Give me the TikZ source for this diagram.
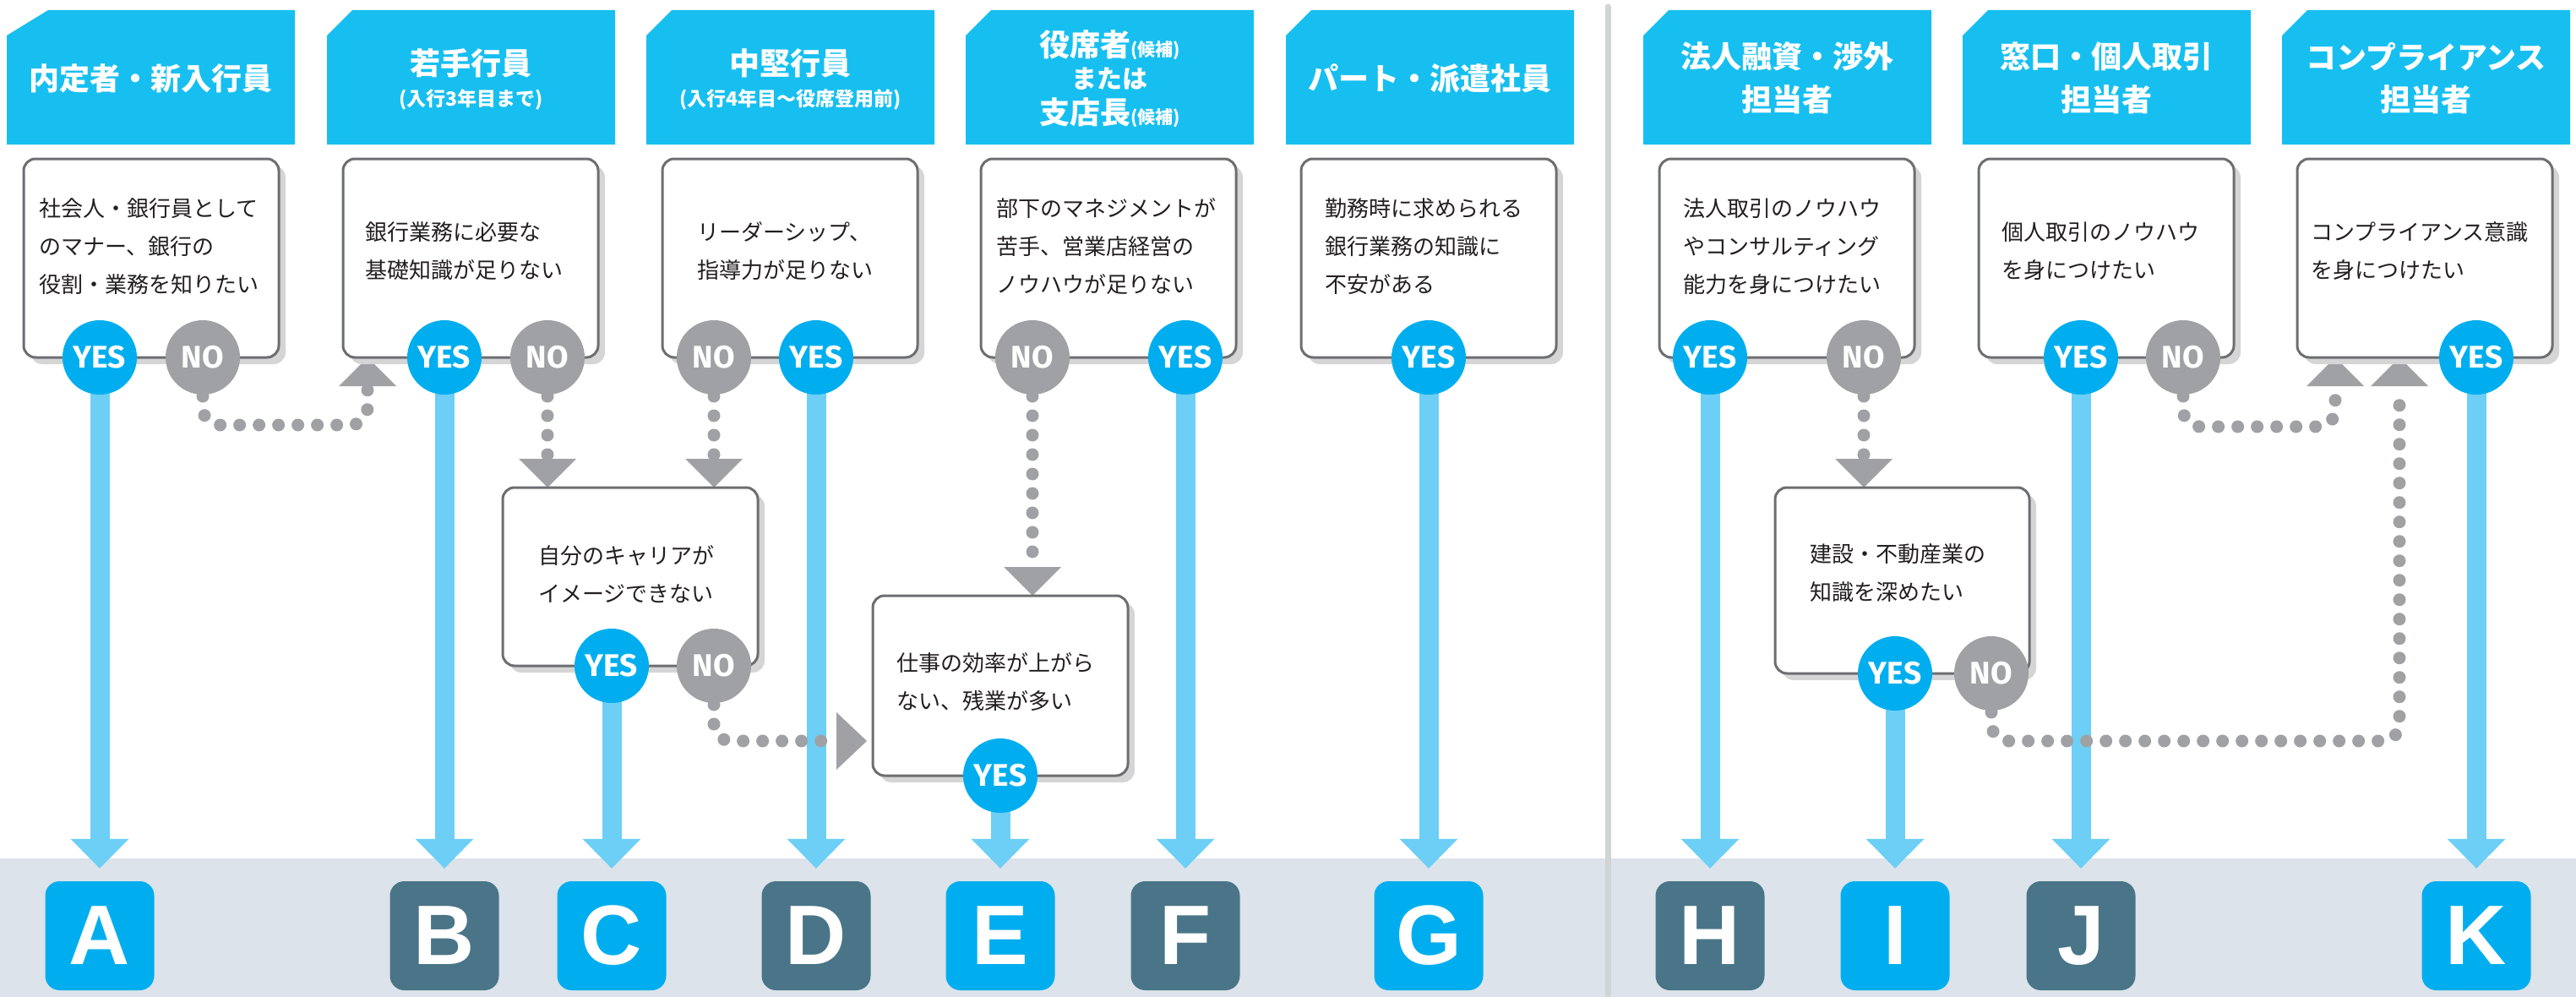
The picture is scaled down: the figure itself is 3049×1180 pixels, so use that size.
\documentclass[tikz,border=0pt]{standalone}
\usepackage{fontspec}
\setmainfont{Noto Sans CJK JP}
\newfontfamily\yesfont{Fira Sans}
\newfontfamily\letfont{Liberation Sans}
\usetikzlibrary{shadows,calc}
\pgfdeclarelayer{bg}
\pgfsetlayers{bg,main}
\definecolor{hcyan}{HTML}{17BFF0}
\definecolor{yesblue}{HTML}{00AEEF}
\definecolor{arrowblue}{HTML}{6DCFF6}
\definecolor{nogray}{HTML}{A0A1A5}
\definecolor{letdark}{HTML}{4A7588}
\definecolor{bandcol}{HTML}{DCE3EA}
\definecolor{sepgray}{HTML}{D1D3D4}
\definecolor{boxborder}{HTML}{6D6E71}
\definecolor{shadowgray}{HTML}{D5D5D5}
\definecolor{textdark}{HTML}{231F20}
\tikzset{
  hdrtext/.style={text=white, inner sep=0pt, font=\bfseries\fontsize{36}{36}\selectfont},
  hdrsub/.style={text=white, inner sep=0pt, font=\bfseries\fontsize{23}{23}\selectfont},
  qbox/.style={draw=boxborder, line width=3pt, fill=white, rounded corners=14pt,
    minimum width=302pt, inner sep=0pt,
    drop shadow={shadow xshift=8pt, shadow yshift=-8pt, fill=shadowgray, opacity=1}},
  qtext/.style={anchor=west, align=left, inner sep=0pt, text=textdark,
    font=\fontsize{26}{45}\selectfont},
  yesc/.style={circle, minimum size=88pt, inner sep=0pt, fill=yesblue, text=white,
    font=\yesfont\bfseries\fontsize{37}{37}\selectfont},
  noc/.style={yesc, fill=nogray},
  letbox/.style={rounded corners=17pt, minimum size=129pt, inner sep=0pt, text=white,
    font=\letfont\bfseries\fontsize{100}{100}\selectfont},
  letblue/.style={letbox, fill=yesblue},
  letdk/.style={letbox, fill=letdark},
  yesshaft/.style={draw=arrowblue, line width=23pt},
  dotline/.style={draw=nogray, line width=15pt, line cap=round,
    dash pattern=on 0pt off 23pt, rounded corners=20pt},
  sepline/.style={draw=sepgray, line width=7pt, line cap=round}
}
\newcommand\hdrshape[2]{\fill[hcyan] (#1+#2,12) -- (#1+341,12) -- (#1+341,171) -- (#1,171) -- (#1,42) -- cycle;}
\newcommand\yesto[2]{%
  \draw[yesshaft] (#1.center) -- ($(#1.center |- #2.north)+(0,-49)$);
  \fill[arrowblue] ($(#1.center |- #2.north)+(0,-15)$) -- ++(-34.5,-35) -- ++(69,0) -- cycle;}
\newcommand\headup[1]{\fill[nogray] (#1) -- ++(-34,34) -- ++(68,0) -- cycle;}
\newcommand\headdown[1]{\fill[nogray] (#1) -- ++(-34,-34) -- ++(68,0) -- cycle;}
\newcommand\headright[1]{\fill[nogray] (#1) -- ++(-36,-34) -- ++(0,68) -- cycle;}
\begin{document}
\begin{tikzpicture}[x=1pt,y=-1pt]
\useasboundingbox (0,0) rectangle (3049,1180);
% headers
\hdrshape{8}{49}
\hdrshape{387}{30}
\hdrshape{765}{30}
\hdrshape{1143}{30}
\hdrshape{1522}{30}
\hdrshape{1945}{30}
\hdrshape{2323}{30}
\hdrshape{2701}{30}
\node[hdrtext] (h1) at (178.5,93) {内定者・新入行員};
\node[hdrtext] (h2) at (557.5,75) {若手行員};
\node[hdrsub] (h2s) at (557.5,118) {(入行3年目まで)};
\node[hdrtext] (h3) at (935.5,75) {中堅行員};
\node[hdrsub] (h3s) at (935.5,118) {(入行4年目～役席登用前)};
\node[hdrtext] (h4a) at (1313.5,53) {役席者{\fontsize{21}{21}\selectfont (候補)}};
\node[hdrtext, font=\bfseries\fontsize{30}{30}\selectfont] (h4b) at (1313.5,93) {または};
\node[hdrtext] (h4c) at (1313.5,133) {支店長{\fontsize{21}{21}\selectfont (候補)}};
\node[hdrtext] (h5) at (1692.5,93) {パート・派遣社員};
\node[hdrtext] (h6a) at (2115.5,67) {法人融資・渉外};
\node[hdrtext] (h6b) at (2115.5,118) {担当者};
\node[hdrtext] (h7a) at (2493.5,67) {窓口・個人取引};
\node[hdrtext] (h7b) at (2493.5,118) {担当者};
\node[hdrtext] (h8a) at (2871.5,67) {コンプライアンス};
\node[hdrtext] (h8b) at (2871.5,118) {担当者};
% question boxes
\node[qbox, minimum height=235pt] (q1) at (179,305.5) {};
\node[qbox, minimum height=235pt] (q2) at (557,305.5) {};
\node[qbox, minimum height=235pt] (q3) at (935,305.5) {};
\node[qbox, minimum height=235pt] (q4) at (1312,305.5) {};
\node[qbox, minimum height=235pt] (q5) at (1691,305.5) {};
\node[qbox, minimum height=235pt] (q6) at (2115,305.5) {};
\node[qbox, minimum height=235pt] (q7) at (2493,305.5) {};
\node[qbox, minimum height=235pt] (q8) at (2870,305.5) {};
\node[qbox, minimum height=211pt] (qC) at (746,682.5) {};
\node[qbox, minimum height=213pt] (qE) at (1184,811.5) {};
\node[qbox, minimum width=301pt, minimum height=220pt] (qI) at (2251.5,687) {};
% texts
\node[qtext] (t1) at (46,292) {社会人・銀行員として\\のマナー、銀行の\\役割・業務を知りたい};
\node[qtext] (t2) at (432,297.5) {銀行業務に必要な\\基礎知識が足りない};
\node[qtext] (t3) at (825,297.5) {リーダーシップ、\\指導力が足りない};
\node[qtext] (t4) at (1179,292) {部下のマネジメントが\\苦手、営業店経営の\\ノウハウが足りない};
\node[qtext] (t5) at (1568,292) {勤務時に求められる\\銀行業務の知識に\\不安がある};
\node[qtext] (t6) at (1992,292) {法人取引のノウハウ\\やコンサルティング\\能力を身につけたい};
\node[qtext] (t7) at (2369,297.5) {個人取引のノウハウ\\を身につけたい};
\node[qtext] (t8) at (2735,297.5) {コンプライアンス意識\\を身につけたい};
\node[qtext] (tC) at (637,679.5) {自分のキャリアが\\イメージできない};
\node[qtext] (tE) at (1061,807.5) {仕事の効率が上がら\\ない、残業が多い};
\node[qtext] (tI) at (2142,678.5) {建設・不動産業の\\知識を深めたい};
% yes / no circles
\node[yesc] (y1) at (118,423) {YES};
\node[noc] (n1) at (240,423) {NO};
\node[yesc] (y2) at (526,423) {YES};
\node[noc] (n2) at (648,423) {NO};
\node[noc] (n3) at (845,423) {NO};
\node[yesc] (y3) at (966,423) {YES};
\node[noc] (n4) at (1222,423) {NO};
\node[yesc] (y4) at (1403,423) {YES};
\node[yesc] (y5) at (1691,423) {YES};
\node[yesc] (y6) at (2024,423) {YES};
\node[noc] (n6) at (2206,423) {NO};
\node[yesc] (y7) at (2463,423) {YES};
\node[noc] (n7) at (2584,423) {NO};
\node[yesc] (y8) at (2931,423) {YES};
\node[yesc] (yC) at (724,788) {YES};
\node[noc] (nC) at (845,788) {NO};
\node[yesc] (yE) at (1184,918) {YES};
\node[yesc] (yI) at (2243,797) {YES};
\node[noc] (nI) at (2357,797) {NO};
% letters
\node[letblue] (A) at (118,1107.5) {A};
\node[letdk] (B) at (526,1107.5) {B};
\node[letblue] (C) at (724,1107.5) {C};
\node[letdk] (D) at (966,1107.5) {D};
\node[letblue] (E) at (1184,1107.5) {E};
\node[letdk] (F) at (1403,1107.5) {F};
\node[letblue] (G) at (1691,1107.5) {G};
\node[letdk] (H) at (2024,1107.5) {H};
\node[letblue] (I) at (2243,1107.5) {I};
\node[letdk] (J) at (2463,1107.5) {J};
\node[letblue] (K) at (2931,1107.5) {K};
% tips of the gray arrows
\coordinate (p1) at (435,423);
\coordinate (p2) at (648,577);
\coordinate (p3) at (845,577);
\coordinate (p4) at (1026,877);
\coordinate (p5) at (1222,705);
\coordinate (p6) at (2206,577);
\coordinate (p7) at (2840,423);
\coordinate (p8) at (2764,423);
\coordinate (s1) at (1903,8);
\coordinate (s2) at (1903,1177);
\begin{pgfonlayer}{bg}
\fill[bandcol] (0,1016) rectangle (3049,1180);
\draw[sepline] (s1) -- (s2);
\yesto{y1}{A}
\yesto{y2}{B}
\yesto{yC}{C}
\yesto{y3}{D}
\yesto{yE}{E}
\yesto{y4}{F}
\yesto{y5}{G}
\yesto{y6}{H}
\yesto{yI}{I}
\yesto{y7}{J}
\yesto{y8}{K}
\draw[dotline] (n1.center) -- (240,503) -- (435,503) -- ($(p1)+(0,34)$);
\headup{p1}
\draw[dotline] (n2.center) -- ($(p2)+(0,-34)$);
\headdown{p2}
\draw[dotline] (n3.center) -- ($(p3)+(0,-34)$);
\headdown{p3}
\draw[dotline] (nC.center) -- (845,877) -- ($(p4)+(-36,0)$);
\headright{p4}
\draw[dotline] (n4.center) -- ($(p5)+(0,-33)$);
\headdown{p5}
\draw[dotline] (n6.center) -- ($(p6)+(0,-34)$);
\headdown{p6}
\draw[dotline] (nI.center) -- (2357,877) -- (2840,877) -- ($(p7)+(0,34)$);
\headup{p7}
\draw[dotline] (n7.center) -- (2584,505) -- (2764,505) -- ($(p8)+(0,34)$);
\headup{p8}
\end{pgfonlayer}
\end{tikzpicture}
\end{document}
